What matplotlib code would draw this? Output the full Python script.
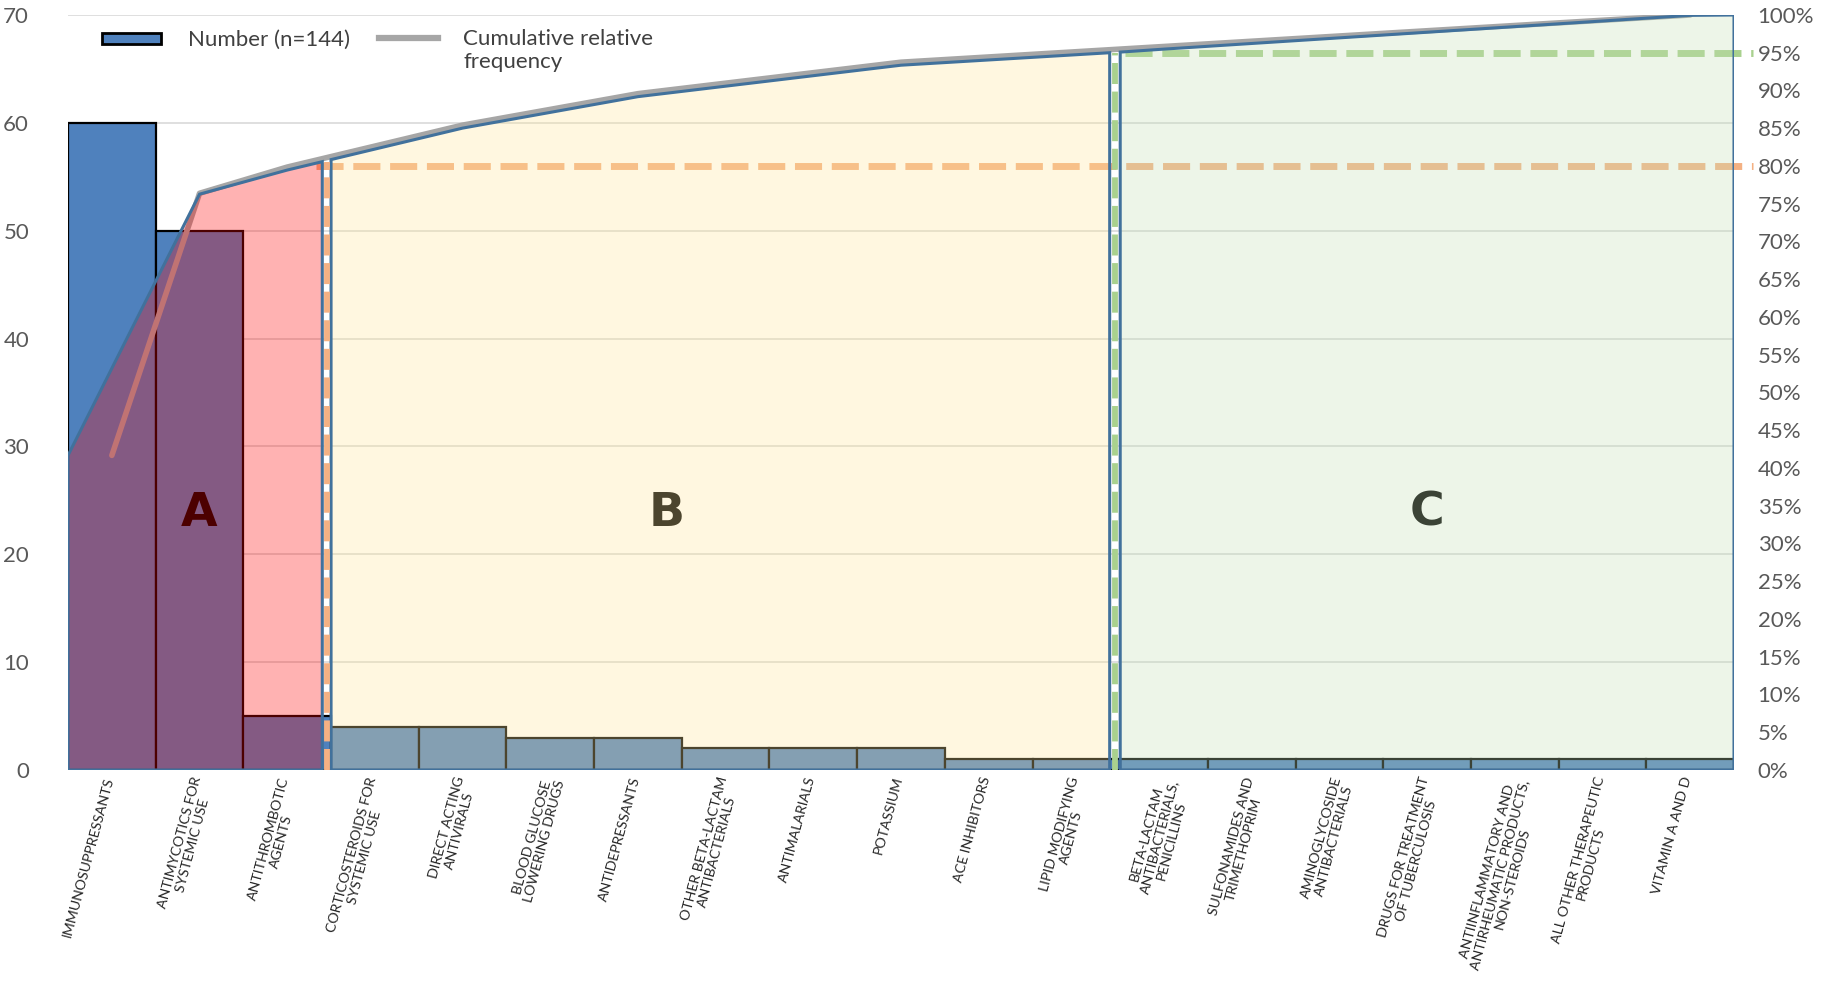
import numpy as np
import matplotlib
matplotlib.use("Agg")
import matplotlib.pyplot as plt
import matplotlib.transforms as mtransforms
from matplotlib.patches import Polygon, Rectangle
from matplotlib.lines import Line2D

plt.rcParams['font.family'] = ['Lato', 'DejaVu Sans']

# data
categories = [
    "IMMUNOSUPPRESSANTS",
    "ANTIMYCOTICS FOR\nSYSTEMIC USE",
    "ANTITHROMBOTIC\nAGENTS",
    "CORTICOSTEROIDS FOR\nSYSTEMIC USE",
    "DIRECT ACTING\nANTIVIRALS",
    "BLOOD GLUCOSE\nLOWERING DRUGS",
    "ANTIDEPRESSANTS",
    "OTHER BETA-LACTAM\nANTIBACTERIALS",
    "ANTIMALARIALS",
    "POTASSIUM",
    "ACE INHIBITORS",
    "LIPID MODIFYING\nAGENTS",
    "BETA-LACTAM\nANTIBACTERIALS,\nPENICILLINS",
    "SULFONAMIDES AND\nTRIMETHOPRIM",
    "AMINOGLYCOSIDE\nANTIBACTERIALS",
    "DRUGS FOR TREATMENT\nOF TUBERCULOSIS",
    "ANTIINFLAMMATORY AND\nANTIRHEUMATIC PRODUCTS,\nNON-STEROIDS",
    "ALL OTHER THERAPEUTIC\nPRODUCTS",
    "VITAMIN A AND D",
]
counts = [60, 50, 5, 4, 4, 3, 3, 2, 2, 2, 1, 1, 1, 1, 1, 1, 1, 1, 1]
left_ticks = [0, 10, 20, 30, 40, 50, 60, 70]
right_ticks = list(range(0, 101, 5))
zone_names = ["A", "B", "C"]
thresholds = [80, 95]
legend_labels = ['Number (n=144)', 'Cumulative relative\nfrequency']

x = np.arange(len(counts))
cum = np.cumsum(counts) / sum(counts) * 100

fig = plt.figure(figsize=(18.4, 9.81), dpi=100)
ax = fig.add_axes([68/1840, 1 - 770/981, (1734 - 68)/1840, 755/981])
ax.set_xlim(-0.5, len(counts) - 0.5)
ax.set_ylim(0, 70)
ax2 = ax.twinx()
ax2.set_ylim(0, 100)

for a in (ax, ax2):
    for s in a.spines.values():
        s.set_visible(False)

ax.set_axisbelow(True)
ax.yaxis.grid(True, color='#D9D9D9', lw=1.2)
ax.set_yticks(left_ticks)
ax.tick_params(axis='y', length=0, pad=28, labelsize=16, labelcolor='#595959')
ax2.set_yticks(right_ticks)
ax2.set_yticklabels([f"{v}%" for v in right_ticks])
ax2.tick_params(axis='y', length=0, pad=17, labelsize=16, labelcolor='#595959')

ax.set_xticks(x)
ax.set_xticklabels(categories, rotation=75, ha='right', va='top',
                   rotation_mode='anchor', multialignment='center',
                   fontsize=10.2, color='#262626', linespacing=1.1)
ax.tick_params(axis='x', length=0, pad=4)
# first text line sits at the tick, extra lines spread to the right
shift = mtransforms.ScaledTranslation(-0.08, 0, fig.dpi_scale_trans)
for lab in ax.get_xticklabels():
    lab.set_transform(lab.get_transform() + shift)

# bars
ax.bar(x, counts, width=1.0, color='#4F81BD', edgecolor='black', lw=1.6, zorder=2)

# cumulative line + zone letters (under the zone overlays)
ax2.plot(x, cum, color='#A6A6A6', lw=4, solid_capstyle='round', zorder=2)
for lx, name in zip([1.0, 6.33, 15.0], zone_names):
    ax2.text(lx, 34, name, fontsize=34, fontweight='bold', family='DejaVu Sans',
             ha='center', va='center', color='black', zorder=2)

# threshold lines (horizontal parts under overlays)
ax2.plot([2.33, 18.72], [thresholds[0]] * 2, color='#F4B183', lw=5,
         ls=(0, (3.9, 1.4)), clip_on=False, zorder=2.5)
ax2.plot([11.55, 18.72], [thresholds[1]] * 2, color='#A9D18E', lw=5,
         ls=(0, (3.9, 1.4)), clip_on=False, zorder=2.5)

# zone overlays
off = 0.4
def top(xs):
    return np.interp(xs, x, cum) - off

a_x = [-0.5, -0.5, 1.0, 2.0, 2.4, 2.4]
a_y = [0, cum[0], cum[1] - off * 0.3, top(2.0), top(2.4), 0]
b_xs = [2.5] + list(range(3, 12)) + [11.38]
b_x = [2.5] + b_xs + [11.38]
b_y = [0] + list(top(np.array(b_xs))) + [0]
c_xs = [11.5] + list(range(12, 19)) + [18.5]
c_x = [11.5] + c_xs + [18.5]
c_y = [0] + list(np.minimum(top(np.array(c_xs)) + np.linspace(0, off, len(c_xs)), 100)) + [0]

zones = [
    (a_x, a_y, (1.0, 0.0, 0.0, 0.30)),
    (b_x, b_y, (1.0, 0.90, 0.60, 0.30)),
    (c_x, c_y, (0.77, 0.88, 0.71, 0.30)),
]
for zx, zy, fc in zones:
    ax2.add_patch(Polygon(np.column_stack([zx, zy]), closed=True, facecolor=fc,
                          edgecolor='#41719C', lw=2.2, zorder=3))

# vertical threshold lines in the gaps between zones
ax2.plot([2.45, 2.45], [0, 80.5], color='#F4B183', lw=4.2, ls=(0, (3.6, 1.3)), zorder=5)
ax2.plot([11.44, 11.44], [0, 95.0], color='#A9D18E', lw=4.2, ls=(0, (3.6, 1.3)), zorder=5)

# legend, placed by hand so the handles line up with the first text line
fig.patches.append(Rectangle((102/1840, 1 - 44/981), 59/1840, 11/981,
                             transform=fig.transFigure, facecolor='#4F81BD',
                             edgecolor='black', lw=2))
fig.text(188/1840, 1 - 40/981, legend_labels[0], fontsize=16, color='#404040',
         ha='left', va='center')
fig.lines.append(Line2D([379/1840, 438/1840], [1 - 38/981] * 2, transform=fig.transFigure,
                        color='#A6A6A6', lw=4.5))
fig.text(463/1840, 1 - 29/981, legend_labels[1], fontsize=16, color='#404040',
         ha='left', va='top', linespacing=1.2)

fig.savefig("out.png", dpi=100)
